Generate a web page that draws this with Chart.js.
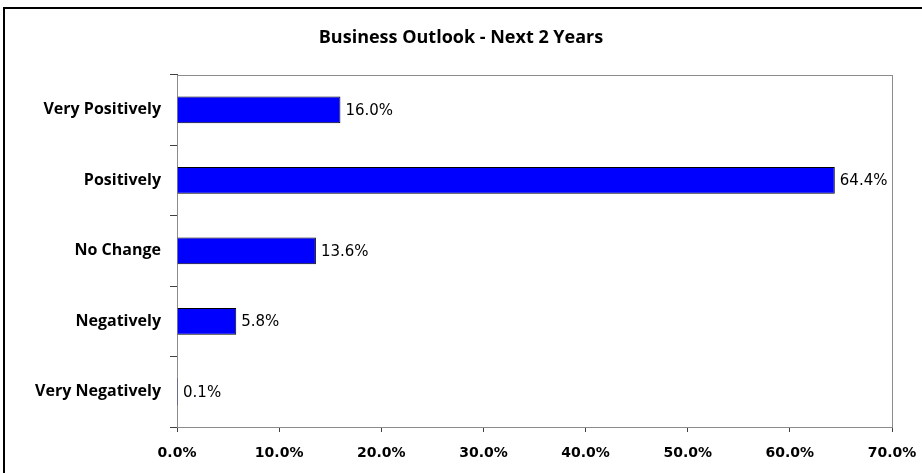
<!DOCTYPE html>
<html>
<head>
<meta charset="utf-8">
<script src="https://cdn.jsdelivr.net/npm/chart.js@4.4.0/dist/chart.umd.min.js"></script>
<style>
  html, body { margin: 0; padding: 0; background: #fff; overflow: hidden; }
  #wrap { position: relative; width: 922px; height: 473px; }
  #frame { position: absolute; left: 3px; top: 7px; width: 940px; height: 500px; border: 2px solid #000; box-sizing: border-box; }
  canvas { position: absolute; left: 0; top: 0; }
</style>
</head>
<body>
<div id="wrap">
  <div id="frame"></div>
  <canvas id="outlook" width="922" height="473"></canvas>
</div>
<script>
// Business outlook survey - share of responses
const categories = ['Very Positively', 'Positively', 'No Change', 'Negatively', 'Very Negatively'];
const shares = [16.0, 64.4, 13.6, 5.8, 0.1];
const xTicks = [0, 10, 20, 30, 40, 50, 60, 70];

// centre the title on the whole canvas, not just the padded box
const titleCentre = {
  id: 'titleCentre',
  afterLayout(chart) {
    if (chart.titleBlock) {
      chart.titleBlock.left = 0;
      chart.titleBlock.right = chart.width;
    }
  }
};

// grey frame round the plot area (top and right edges show)
const plotFrame = {
  id: 'plotFrame',
  beforeDatasetsDraw(chart) {
    const { ctx, chartArea: a } = chart;
    ctx.save();
    ctx.strokeStyle = '#8c8c8c';
    ctx.lineWidth = 1;
    ctx.strokeRect(Math.round(a.left) + 0.5, Math.round(a.top) + 0.5, Math.round(a.right - a.left), Math.round(a.bottom - a.top));
    ctx.restore();
  }
};

// value text to the right of each bar
const valueLabels = {
  id: 'valueLabels',
  afterDatasetsDraw(chart) {
    const { ctx } = chart;
    const meta = chart.getDatasetMeta(0);
    ctx.save();
    ctx.font = '15px "DejaVu Sans"';
    ctx.fillStyle = '#000';
    ctx.textBaseline = 'middle';
    meta.data.forEach((bar, i) => {
      ctx.fillText(shares[i].toFixed(1) + '%', bar.x + 5, bar.y + 1);
    });
    ctx.restore();
  }
};

new Chart(document.getElementById('outlook'), {
  type: 'bar',
  data: {
    labels: categories,
    datasets: [{
      data: shares,
      backgroundColor: '#0000ff',
      borderColor: '#000',
      borderWidth: 1,
      barPercentage: 0.38,
      categoryPercentage: 1
    }]
  },
  options: {
    indexAxis: 'y',
    responsive: false,
    animation: false,
    layout: { padding: { left: 0, right: 30, top: 0, bottom: 0 } },
    plugins: {
      legend: { display: false },
      tooltip: { enabled: false },
      title: {
        display: true,
        text: 'Business Outlook - Next 2 Years',
        color: '#000',
        font: { family: 'Open Sans', size: 18, weight: 'bold', lineHeight: 1.2 },
        padding: { top: 27, bottom: 26 }
      }
    },
    scales: {
      x: {
        min: 0, max: 70,
        afterBuildTicks(scale) { scale.ticks = xTicks.map(v => ({ value: v })); },
        afterFit(scale) {
          scale.height = 46;
          scale.paddingLeft = 0;
          scale.paddingRight = 0;
        },
        border: { color: '#404040', width: 1 },
        grid: { drawOnChartArea: false, tickLength: 5, color: '#404040' },
        ticks: {
          color: '#000',
          padding: 13,
          maxRotation: 0,
          font: { family: 'DejaVu Sans', size: 14, weight: 'bold' },
          callback: v => v.toFixed(1) + '%'
        }
      },
      y: {
        afterFit(scale) { scale.width = 177; },
        border: { color: '#404040', width: 1 },
        grid: { drawOnChartArea: false, offset: true, tickLength: 7, color: '#404040' },
        ticks: {
          color: '#000',
          padding: 9,
          font: { family: 'Open Sans', size: 16, weight: 'bold' }
        }
      }
    }
  },
  plugins: [titleCentre, plotFrame, valueLabels]
});
</script>
</body>
</html>
